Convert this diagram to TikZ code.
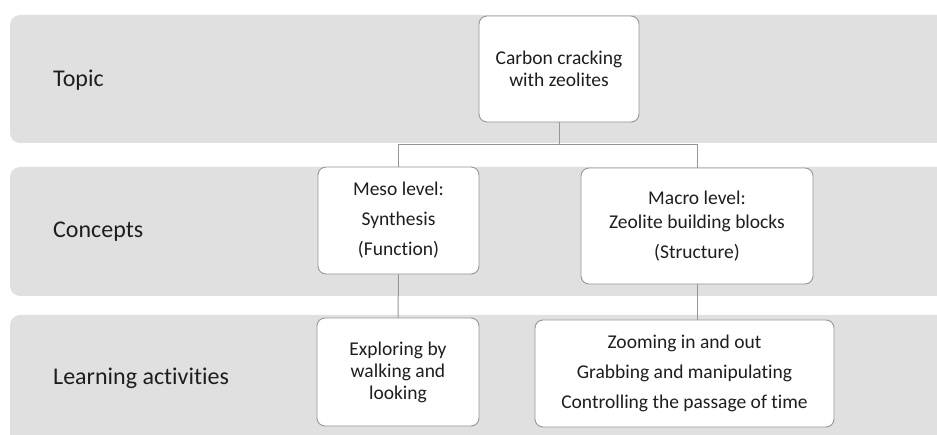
\documentclass[tikz,border=0pt]{standalone}
\usepackage{fontspec}
\setmainfont{Carlito}[Ligatures=NoCommon]
\definecolor{bandgray}{RGB}{224,224,224}
\definecolor{linegray}{RGB}{150,150,150}
\definecolor{textgray}{RGB}{30,30,30}
\tikzset{
  band/.style={fill=bandgray, rounded corners=10pt},
  rowlabel/.style={anchor=west, inner sep=0pt, text=textgray, font=\fontsize{24}{28}\selectfont},
  card/.style={draw=linegray, fill=white, line width=0.9pt, rounded corners=8pt, text=textgray,
    align=center, inner sep=0pt, font=\fontsize{19.5}{22}\selectfont},
  link/.style={draw=linegray, line width=1pt}
}
\begin{document}
\begin{tikzpicture}[x=1pt, y=-1pt]
  \useasboundingbox (0,0) rectangle (937,435);
  \clip (0,0) rectangle (937,435);

  % grey rows
  \foreach \top/\bot in {15/143, 167/296, 315/460} {
    \fill[band] (10,\top) rectangle (960,\bot);
  }

  \node[rowlabel] (lbltopic) at (53,80) {Topic};
  \node[rowlabel] (lblconcepts) at (53,232) {Concepts};
  \node[rowlabel] (lbllearning) at (53,378) {Learning activities};

  \node[card, minimum width=160, minimum height=106] (topic) at (559,69)
    {Carbon cracking\\with zeolites};

  \node[card, minimum width=161, minimum height=107] (meso) at (398.5,220.5)
    {Meso level:\\[8pt]Synthesis\\[8pt](Function)};
  \node[card, minimum width=232, minimum height=116] (macro) at (697,226)
    {Macro level:\\[2pt]Zeolite building blocks\\[8pt](Structure)};

  \node[card, minimum width=162, minimum height=108] (explore) at (398,372)
    {Exploring by\\walking and\\looking};
  \node[card, minimum width=299, minimum height=107] (zoom) at (684.5,373.5)
    {Zooming in and out\\[8pt]Grabbing and manipulating\\[8pt]Controlling the passage of time};

  \draw[link] (topic.south) -- ++(0,22) -| (meso.north);
  \draw[link] (topic.south) -- ++(0,22) -| (macro.north);
  \draw[link] (meso.south) -- (explore.north);
  \draw[link] (macro.south) -- (macro.south |- zoom.north);
\end{tikzpicture}
\end{document}
